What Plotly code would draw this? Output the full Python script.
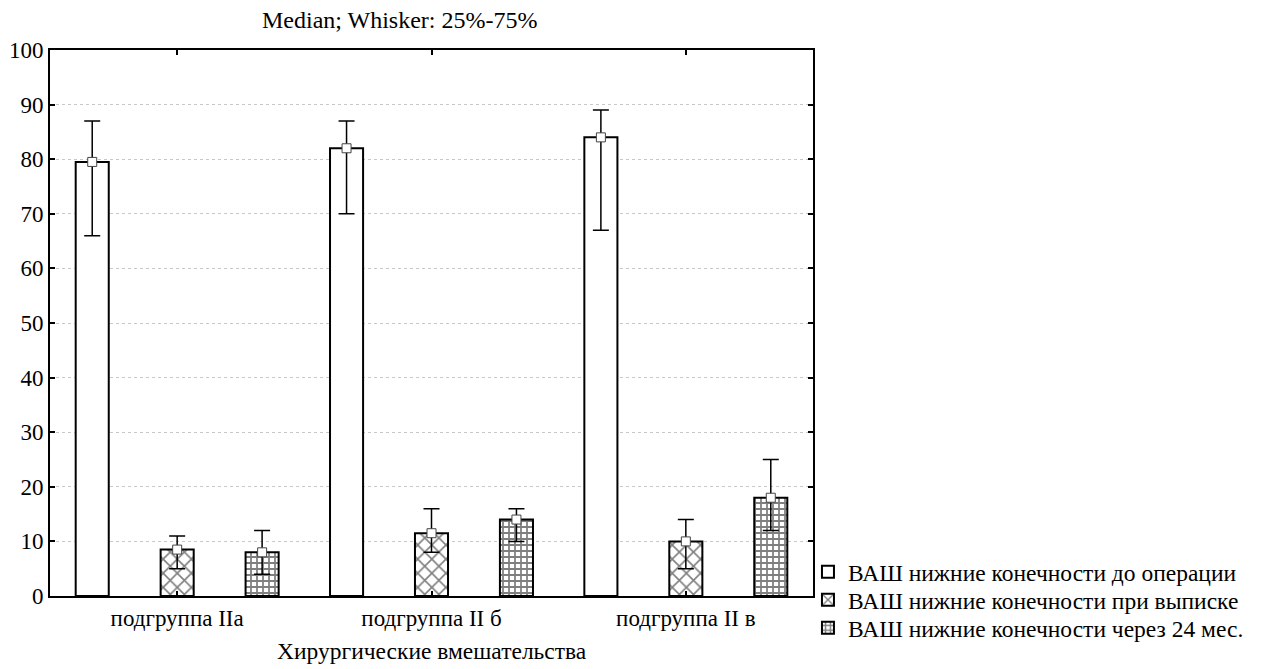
import plotly.graph_objects as go

categories = ["подгруппа IIa", "подгруппа II б", "подгруппа II в"]
series_names = [
    "ВАШ нижние конечности до операции",
    "ВАШ нижние конечности при выписке",
    "ВАШ нижние конечности через 24 мес.",
]
median_before = [79.5, 82.0, 84.0]
q1_before = [66.0, 70.0, 67.0]
q3_before = [87.0, 87.0, 89.0]

median_discharge = [8.5, 11.5, 10.0]
q1_discharge = [5.0, 8.0, 5.0]
q3_discharge = [11.0, 16.0, 14.0]

median_24m = [8.0, 14.0, 18.0]
q1_24m = [4.0, 10.0, 12.0]
q3_24m = [12.0, 16.0, 25.0]

y_ticks = [0, 10, 20, 30, 40, 50, 60, 70, 80, 90, 100]

medians = [median_before, median_discharge, median_24m]
q1s = [q1_before, q1_discharge, q1_24m]
q3s = [q3_before, q3_discharge, q3_24m]
patterns = ["", "x", "+"]
pattern_sizes = [8, 10, 6]
pattern_solid = [0.3, 0.3, 0.5]
offsets = [-0.334, 0.0, 0.334]
bar_w = 0.13
legend_ids = ["legend", "legend2", "legend3"]
legend_y = [0.044, -0.0073, -0.0586]

FONT = "Liberation Serif, Times New Roman, serif"

fig = go.Figure()
idx = list(range(len(categories)))
for j in range(3):
    xs = [i + offsets[j] for i in idx]
    fig.add_trace(go.Bar(
        x=xs, y=medians[j], width=bar_w, name=series_names[j],
        legend=legend_ids[j],
        marker=dict(
            color="white",
            line=dict(color="black", width=2),
            pattern=dict(shape=patterns[j], fgcolor="black", bgcolor="white",
                         size=pattern_sizes[j], solidity=pattern_solid[j]),
        ),
        showlegend=True,
    ))
for j in range(3):
    xs = [i + offsets[j] for i in idx]
    fig.add_trace(go.Scatter(
        x=xs, y=medians[j], mode="markers", showlegend=False,
        marker=dict(symbol="square", size=9, color="white",
                    line=dict(color="#444", width=1)),
        error_y=dict(type="data", symmetric=False,
                     array=[q3s[j][k] - medians[j][k] for k in idx],
                     arrayminus=[medians[j][k] - q1s[j][k] for k in idx],
                     color="black", thickness=1.5, width=8),
    ))

legend_style = dict(x=0.9934, xanchor="left", yanchor="middle",
                    font=dict(family=FONT, size=23.5, color="black"),
                    itemsizing="constant", bgcolor="rgba(0,0,0,0)")

fig.update_layout(
    width=1248, height=661,
    margin=dict(l=42, r=443, t=42, b=73, autoexpand=False),
    plot_bgcolor="white", paper_bgcolor="white",
    barmode="overlay",
    font=dict(family=FONT, size=23, color="black"),
    legend=dict(y=legend_y[0], **legend_style),
    legend2=dict(y=legend_y[1], **legend_style),
    legend3=dict(y=legend_y[2], **legend_style),
    annotations=[
        dict(text="Median; Whisker: 25%-75%", xref="paper", yref="paper",
             x=0.4587, y=1, yshift=30, xanchor="center", yanchor="middle",
             showarrow=False, font=dict(family=FONT, size=24, color="black")),
        dict(text="Хирургические вмешательства", xref="paper", yref="paper",
             x=0.5, y=0, yshift=-55, xanchor="center", yanchor="middle",
             showarrow=False, font=dict(family=FONT, size=23.5, color="black")),
    ],
)
fig.update_xaxes(
    range=[-0.5, 2.5], tickvals=idx, ticktext=categories,
    showline=True, linecolor="black", linewidth=2, mirror="allticks",
    ticks="inside", ticklen=5, tickcolor="black", tickwidth=1.5,
    showgrid=False, zeroline=False, automargin=False,
    tickfont=dict(family=FONT, size=23, color="black"),
)
fig.update_yaxes(
    range=[0, 100], tickvals=y_ticks,
    showline=True, linecolor="black", linewidth=2, mirror="allticks",
    ticks="inside", ticklen=5, tickcolor="black", tickwidth=1.5,
    showgrid=True, gridcolor="#c8c8c8", gridwidth=1, griddash="dot",
    zeroline=False, automargin=False,
    tickfont=dict(family=FONT, size=23, color="black"),
)

fig.write_html("out.html")
